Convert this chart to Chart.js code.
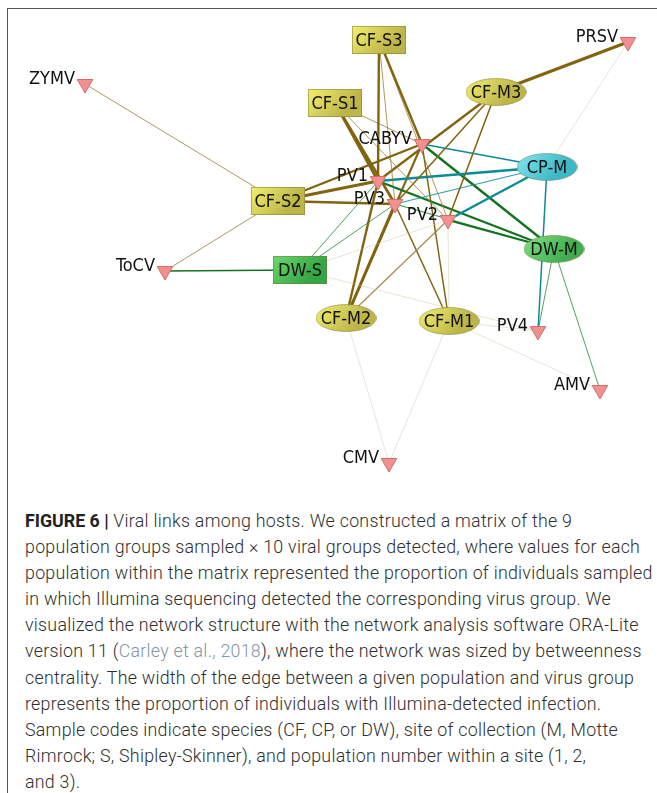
<!DOCTYPE html>
<html>
<head>
<meta charset="utf-8">
<script src="https://cdn.jsdelivr.net/npm/chart.js@4.4.1/dist/chart.umd.min.js"></script>
<style>
    body { margin: 0; background: #fff; width: 657px; height: 793px; overflow: hidden; position: relative; }
    #frame { position: absolute; left: 7px; top: 8px; width: 700px; height: 820px; border: 1px solid #555; }
    #net { position: absolute; left: 0; top: 0; }
    #cap { position: absolute; left: 25px; top: 508px; font-family: Roboto, sans-serif; font-weight: 300;
           font-size: 17.8px; letter-spacing: 0.27px; line-height: 26.1px; color: #2e2e2e; white-space: nowrap; }
    #cap b { font-weight: 700; color: #222; letter-spacing: 0; }
    #cap .ref { color: #8394a8; }
</style>
</head>
<body>
<div id="frame"></div>
<canvas id="net" width="657" height="490"></canvas>
<div id="cap">
<b>FIGURE 6 |</b> Viral links among hosts. We constructed a matrix of the 9<br>
population groups sampled × 10 viral groups detected, where values for each<br>
population within the matrix represented the proportion of individuals sampled<br>
in which Illumina sequencing detected the corresponding virus group. We<br>
visualized the network structure with the network analysis software ORA-Lite<br>
version 11 (<span class="ref">Carley et al., 2018</span>), where the network was sized by betweenness<br>
centrality. The width of the edge between a given population and virus group<br>
represents the proportion of individuals with Illumina-detected infection.<br>
Sample codes indicate species (CF, CP, or DW), site of collection (M, Motte<br>
Rimrock; S, Shipley-Skinner), and population number within a site (1, 2,<br>
and 3).
</div>
<script>
// host populations (layout position in the figure)
var hostNames = ["CF-S3", "CF-S1", "CF-S2", "CF-M3", "CF-M2", "CF-M1", "CP-M", "DW-M", "DW-S"];
var hostX = [379, 335, 278, 496, 346, 449, 547, 554, 300];
var hostY = [40, 103, 201, 92, 318, 321, 167, 249, 270];

// virus groups
var virusNames = ["PRSV", "ZYMV", "CABYV", "PV1", "PV3", "PV2", "ToCV", "PV4", "AMV", "CMV"];
var virusX = [628, 85, 422, 378, 395, 448, 165, 538, 600, 389];
var virusY = [42, 84, 144, 181, 204, 220, 271, 331, 390, 463];

// edges: proportion of infected individuals (read from edge widths)
var edgeHost = [
    "CF-S3", "CF-S3", "CF-S3", "CF-S3",
    "CF-S1", "CF-S1", "CF-S1", "CF-S1",
    "CF-M3", "CF-M3", "CF-M3", "CF-M3",
    "CF-S2", "CF-S2", "CF-S2", "CF-S2", "CF-S2",
    "CP-M", "CP-M", "CP-M", "CP-M", "CP-M", "CP-M",
    "DW-M", "DW-M", "DW-M", "DW-M", "DW-M", "DW-M",
    "DW-S", "DW-S", "DW-S", "DW-S", "DW-S",
    "CF-M2", "CF-M2", "CF-M2", "CF-M2", "CF-M2",
    "CF-M1", "CF-M1", "CF-M1", "CF-M1", "CF-M1", "CF-M1"
];
var edgeVirus = [
    "PV1", "CABYV", "PV3", "PV2",
    "PV1", "PV3", "CABYV", "PV2",
    "PRSV", "PV1", "PV3", "PV2",
    "ZYMV", "ToCV", "CABYV", "PV1", "PV3",
    "CABYV", "PV1", "PV3", "PV2", "PV4", "PRSV",
    "CABYV", "PV1", "PV2", "PV3", "PV4", "AMV",
    "ToCV", "PV1", "PV3", "PV2", "PV4",
    "PV1", "PV3", "CABYV", "PV2", "CMV",
    "PV3", "CABYV", "PV2", "PV4", "AMV", "CMV"
];
var edgeWeight = [
    0.8, 0.8, 0.3, 0.3,
    0.9, 0.9, 0.3, 0.3,
    1.0, 0.8, 0.5, 0.5,
    0.3, 0.3, 0.8, 1.0, 0.8,
    0.5, 0.8, 0.4, 0.8, 0.5, 0.1,
    0.8, 0.8, 0.7, 0.4, 0.3, 0.3,
    0.5, 0.3, 0.3, 0.1, 0.1,
    0.8, 1.0, 0.7, 0.4, 0.15,
    0.5, 0.5, 0.15, 0.15, 0.15, 0.15
];

function hostColor(name, w) {
    if (w < 0.2) return "rgba(200,192,160,0.55)";
    if (name.indexOf("CP") === 0) return w < 0.45 ? "rgba(20,150,160,0.9)" : "rgb(10,140,150)";
    if (name.indexOf("DW") === 0) return w < 0.45 ? "rgba(40,140,60,0.9)" : "rgb(20,115,30)";
    return w < 0.45 ? "rgba(150,120,40,0.85)" : "rgb(130,100,15)";
}

function makeShape(name) {
    var ellipse = name.indexOf("-M") > 0;
    var w = ellipse ? 61 : 54, h = 28;
    var c = document.createElement("canvas");
    c.width = w; c.height = h;
    var g = c.getContext("2d");
    var top = "#f4ef6e", bot = "#bdb548";
    if (name === "CP-M") { top = "#84e8f0"; bot = "#3cb8c6"; }
    if (name === "DW-M") { top = "#84e184"; bot = "#40ae50"; }
    if (name === "DW-S") { top = "#6ad96a"; bot = "#36a546"; }
    var grad = g.createLinearGradient(0, 0, w * 0.6, h);
    grad.addColorStop(0, top);
    grad.addColorStop(1, bot);
    g.fillStyle = grad;
    g.strokeStyle = "rgba(120,120,60,0.5)";
    if (ellipse) {
        g.beginPath();
        g.ellipse(w / 2, h / 2, w / 2 - 0.5, h / 2 - 0.5, 0, 0, Math.PI * 2);
        g.fill();
        g.stroke();
    } else {
        g.fillRect(0, 0, w, h);
        g.strokeRect(0.5, 0.5, w - 1, h - 1);
    }
    return c;
}

function hostIndex(n) { return hostNames.indexOf(n); }
function virusIndex(n) { return virusNames.indexOf(n); }

var datasets = [];

datasets.push({
    label: "hosts",
    data: hostNames.map(function (n, i) { return { x: hostX[i], y: hostY[i] }; }),
    pointStyle: hostNames.map(makeShape),
    order: 0
});

datasets.push({
    label: "viruses",
    data: virusNames.map(function (n, i) { return { x: virusX[i], y: virusY[i] }; }),
    pointStyle: "triangle",
    rotation: 180,
    pointRadius: 9,
    backgroundColor: "#f29090",
    borderColor: "#d46c6c",
    borderWidth: 1,
    order: 0
});

for (var i = 0; i < edgeHost.length; i++) {
    var h = hostIndex(edgeHost[i]), v = virusIndex(edgeVirus[i]);
    datasets.push({
        label: edgeHost[i] + "-" + edgeVirus[i],
        data: [{ x: hostX[h], y: hostY[h] }, { x: virusX[v], y: virusY[v] }],
        showLine: true,
        borderColor: hostColor(edgeHost[i], edgeWeight[i]),
        borderWidth: Math.max(0.8, edgeWeight[i] * 3),
        pointRadius: 0,
        order: 1
    });
}

var labelPlugin = {
    id: "nodeLabels",
    afterDatasetsDraw: function (chart) {
        var ctx = chart.ctx, sx = chart.scales.x, sy = chart.scales.y;
        ctx.save();
        ctx.font = "18px 'DejaVu Sans Condensed', 'DejaVu Sans', sans-serif";
        ctx.fillStyle = "#111";
        ctx.textBaseline = "middle";
        ctx.textAlign = "center";
        hostNames.forEach(function (n, i) {
            ctx.fillText(n, sx.getPixelForValue(hostX[i]), sy.getPixelForValue(hostY[i]) + 1);
        });
        ctx.textAlign = "right";
        virusNames.forEach(function (n, i) {
            ctx.fillText(n, sx.getPixelForValue(virusX[i]) - 10, sy.getPixelForValue(virusY[i]) - 5);
        });
        ctx.restore();
    }
};

new Chart(document.getElementById("net"), {
    type: "scatter",
    data: { datasets: datasets },
    options: {
        responsive: false,
        animation: false,
        events: [],
        layout: { padding: 0, autoPadding: false },
        plugins: { legend: { display: false }, tooltip: { enabled: false } },
        scales: {
            x: { type: "linear", min: 0, max: 657, display: false },
            y: { type: "linear", min: 0, max: 490, reverse: true, display: false }
        }
    },
    plugins: [labelPlugin]
});
</script>
</body>
</html>
